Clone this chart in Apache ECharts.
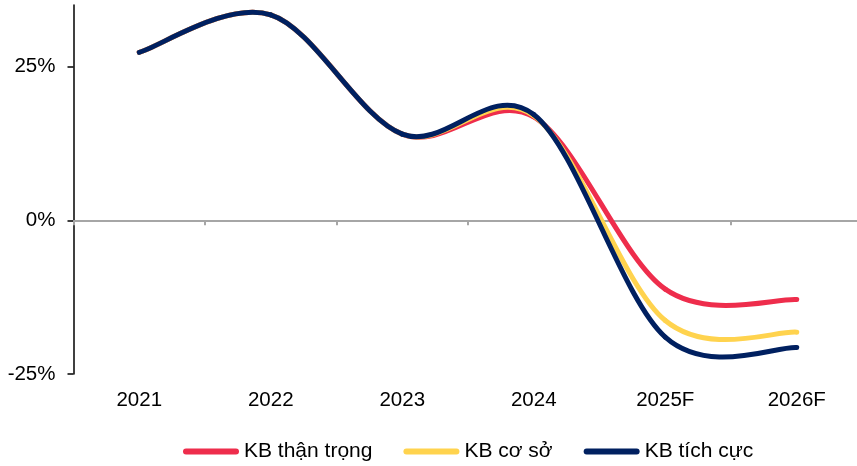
<!DOCTYPE html>
<html>
<head>
<meta charset="utf-8">
<script src="https://cdn.jsdelivr.net/npm/echarts@6/dist/echarts.min.js"></script>
<style>
html,body{margin:0;padding:0;background:#fff;}
#chart{width:857px;height:466px;}
</style>
</head>
<body>
<div id="chart"></div>
<script>
const categories = ['2021', '2022', '2023', '2024', '2025F', '2026F'];
const seriesNames = ['KB thận trọng', 'KB cơ sở', 'KB tích cực'];
const thanTrong = [27.3, 33.4, 14.0, 16.8, -11.2, -12.9];
const coSo = [27.3, 33.4, 14.0, 17.0, -16.3, -18.2];
const tichCuc = [27.3, 33.4, 14.0, 17.2, -19.0, -20.7];
const yTicks = [-25, 0, 25];
const colors = ['#EE2D4C', '#FFD34E', '#002060'];

const chart = echarts.init(document.getElementById('chart'), null, {renderer: 'canvas'});
const font = 'Liberation Sans, Arial, sans-serif';

// Smoothed line (Catmull-Rom through the data points, positioned via the axes)
function mk(name, values, color) {
  return {
    name: name,
    type: 'custom',
    coordinateSystem: 'cartesian2d',
    xAxisIndex: 0,
    yAxisIndex: 0,
    data: values.map((v, i) => [i, v]),
    encode: {x: 0, y: 1},
    itemStyle: {color: color},
    animation: false,
    silent: true,
    renderItem: function (params, api) {
      if (params.dataIndex !== 0) return null;
      const p = values.map((v, i) => api.coord([i, v]));
      const n = p.length;
      const P = i => p[Math.max(0, Math.min(n - 1, i))];
      const children = [];
      for (let i = 0; i < n - 1; i++) {
        const p0 = P(i - 1), p1 = P(i), p2 = P(i + 1), p3 = P(i + 2);
        children.push({
          type: 'bezierCurve',
          shape: {
            x1: p1[0], y1: p1[1],
            cpx1: p1[0] + (p2[0] - p0[0]) / 6, cpy1: p1[1] + (p2[1] - p0[1]) / 6,
            cpx2: p2[0] - (p3[0] - p1[0]) / 6, cpy2: p2[1] - (p3[1] - p1[1]) / 6,
            x2: p2[0], y2: p2[1]
          },
          style: {stroke: color, lineWidth: 5, fill: null, lineCap: 'round', lineJoin: 'round'}
        });
      }
      return {type: 'group', children: children};
    }
  };
}

chart.setOption({
  animation: false,
  textStyle: {fontFamily: font},
  grid: {left: 73.5, top: 5, width: 789, height: 369, containLabel: false, outerBoundsMode: 'none'},
  legend: {
    left: 183,
    top: 441,
    padding: 0,
    itemWidth: 56,
    itemHeight: 6,
    itemGap: 31,
    icon: 'path://M3,0 L53,0 A3,3 0 0 1 53,6 L3,6 A3,3 0 0 1 3,0 Z',
    textStyle: {fontFamily: font, fontSize: 21, color: '#000'},
    data: seriesNames
  },
  xAxis: [
    {
      type: 'category',
      data: categories,
      boundaryGap: true,
      axisLine: {onZero: true, lineStyle: {color: '#A6A6A6', width: 2}},
      axisTick: {show: true, length: 5, lineStyle: {color: '#A6A6A6', width: 2}},
      axisLabel: {show: false},
      splitLine: {show: false}
    },
    {
      type: 'category',
      data: categories,
      position: 'bottom',
      boundaryGap: true,
      axisLine: {show: false, onZero: false},
      axisTick: {show: false},
      axisLabel: {show: true, margin: 16, fontSize: 20.5, color: '#000', fontFamily: font},
      splitLine: {show: false}
    }
  ],
  yAxis: {
    type: 'value',
    min: -25,
    max: 35,
    interval: 25,
    axisLine: {show: true, lineStyle: {color: '#000', width: 1.5}},
    axisTick: {show: true, length: 6, customValues: yTicks, lineStyle: {color: '#000', width: 1.5}},
    axisLabel: {margin: 18, fontSize: 20.5, color: '#000', fontFamily: font, customValues: yTicks,
      formatter: v => v + '%'},
    splitLine: {show: false}
  },
  series: [
    mk(seriesNames[0], thanTrong, colors[0]),
    mk(seriesNames[1], coSo, colors[1]),
    mk(seriesNames[2], tichCuc, colors[2])
  ]
});
</script>
</body>
</html>
